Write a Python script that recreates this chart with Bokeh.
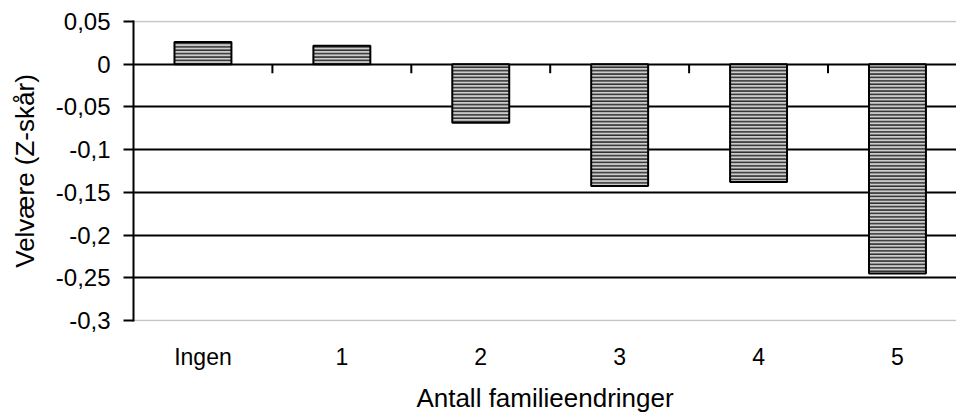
from bokeh.plotting import figure
from bokeh.models import LinearAxis, FixedTicker, Grid, Range1d, ColumnDataSource
from bokeh.embed import file_html
from bokeh.resources import INLINE

categories = ["Ingen", "1", "2", "3", "4", "5"]
values = [0.026, 0.0215, -0.0685, -0.1425, -0.138, -0.245]
y_ticks = [0.05, 0.0, -0.05, -0.1, -0.15, -0.2, -0.25, -0.3]
y_tick_labels = ["0,05", "0", "-0,05", "-0,1", "-0,15", "-0,2", "-0,25", "-0,3"]

FONT = "Liberation Sans"

centers = [i + 0.5 for i in range(len(categories))]
bounds = [float(i) for i in range(1, len(categories))]

p = figure(frame_width=823, frame_height=301, output_backend="svg", toolbar_location=None,
           x_range=Range1d(0, 5.925), y_range=Range1d(-0.3012, 0.0512),
           x_axis_location=None, y_axis_location=None,
           min_border_left=133, min_border_right=0, min_border_top=20,
           min_border_bottom=0, outline_line_color=None)
p.xgrid.visible = False
p.ygrid.visible = False

# grids
g_black = Grid(dimension=1, ticker=FixedTicker(ticks=[t for t in y_ticks if -0.3 < t < 0.05]),
               grid_line_color="black", grid_line_width=2)
g_grey = Grid(dimension=1, ticker=FixedTicker(ticks=[0.05, -0.3]),
              grid_line_color="#c4c4c4", grid_line_width=1.5)
p.add_layout(g_grey)
p.add_layout(g_black)

src = ColumnDataSource(dict(x=centers, top=values, cat=categories))
p.vbar(x="x", top="top", bottom=0, width=0.41, source=src,
       fill_color="#cccccc", line_color="black", line_width=2,
       hatch_pattern="horizontal_line", hatch_color="#2e2e2e",
       hatch_scale=3.4, hatch_weight=1.6)

# zero-line ticks between categories (short downward ticks)
tick_len = 0.0105
p.segment(x0=bounds, y0=[0.0] * len(bounds), x1=bounds,
          y1=[-tick_len] * len(bounds), line_color="black", line_width=2)

# y axis
ya = LinearAxis(ticker=FixedTicker(ticks=y_ticks),
                major_label_overrides={t: l for t, l in zip(y_ticks, y_tick_labels)},
                axis_label="Velvære (Z-skår)")
ya.axis_line_color = "black"
ya.axis_line_width = 2
ya.major_tick_line_color = "black"
ya.major_tick_line_width = 2
ya.major_tick_out = 10
ya.major_tick_in = 0
ya.minor_tick_line_color = None
ya.major_label_standoff = 13
ya.major_label_text_font = FONT
ya.major_label_text_font_size = "24px"
ya.major_label_text_color = "black"
ya.axis_label_text_font = FONT
ya.axis_label_text_font_size = "26px"
ya.axis_label_text_font_style = "normal"
ya.axis_label_text_color = "black"
ya.axis_label_standoff = 13
p.add_layout(ya, "left")

# x axis with category labels
xa = LinearAxis(ticker=FixedTicker(ticks=centers),
                major_label_overrides={c: l for c, l in zip(centers, categories)},
                axis_label="Antall familieendringer")
xa.axis_line_color = None
xa.major_tick_line_color = None
xa.minor_tick_line_color = None
xa.major_label_standoff = 16
xa.major_label_text_font = FONT
xa.major_label_text_font_size = "23px"
xa.major_label_text_color = "black"
xa.axis_label_text_font = FONT
xa.axis_label_text_font_size = "26px"
xa.axis_label_text_font_style = "normal"
xa.axis_label_text_color = "black"
xa.axis_label_standoff = 10
p.add_layout(xa, "below")

open("out.html", "w").write(file_html(p, INLINE))
